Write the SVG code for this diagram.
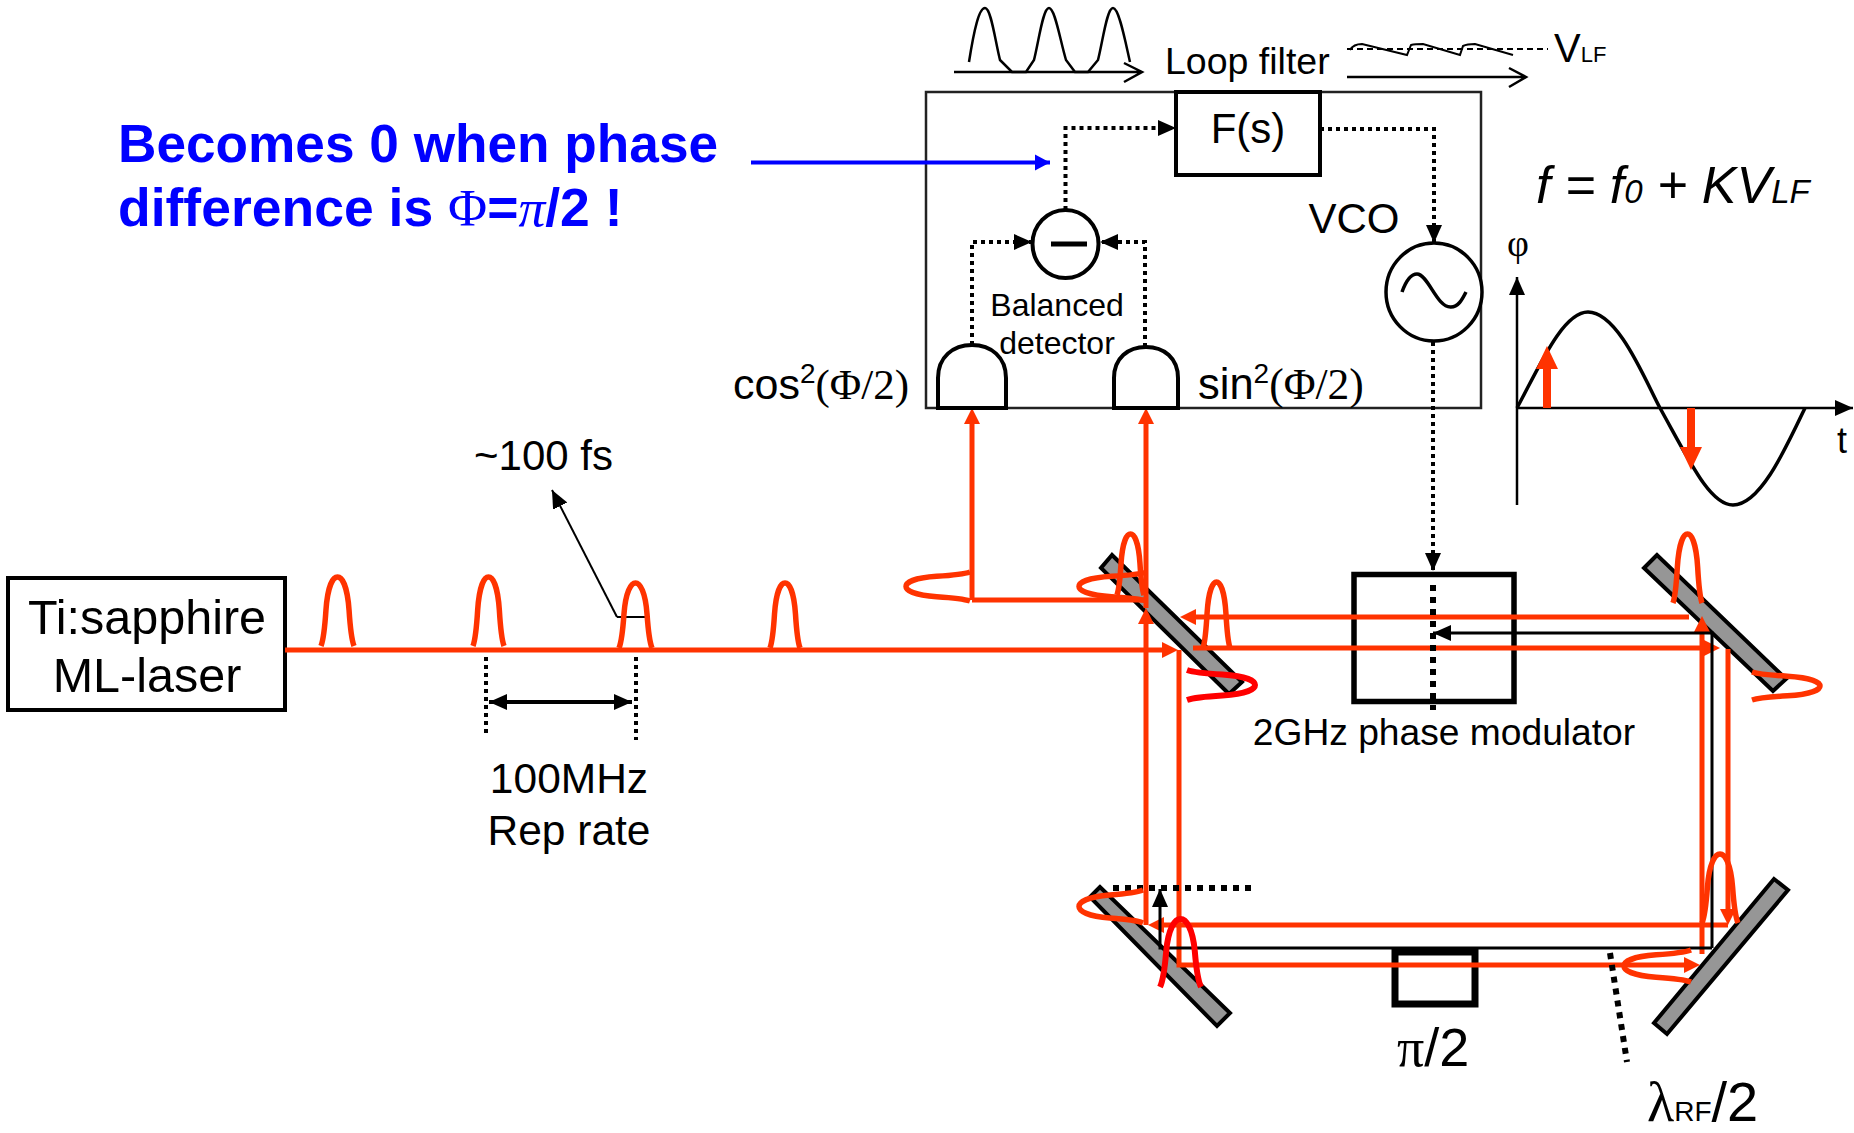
<svg xmlns="http://www.w3.org/2000/svg" xmlns:xlink="http://www.w3.org/1999/xlink" width="1854" height="1133" viewBox="0 0 1854 1133">
<style>
text{font-family:"Liberation Sans",Arial,sans-serif;fill:#000}
.s{font-family:"Liberation Serif","Times New Roman",serif}
.bl{fill:#0000ff;font-weight:bold}
.r{fill:none;stroke:#ff3300;stroke-width:5}
.k{fill:none;stroke:#000;stroke-width:3}
.d{fill:none;stroke:#000;stroke-width:4;stroke-dasharray:4 4}
.dd{fill:none;stroke:#000;stroke-width:6;stroke-dasharray:6 6}
.m{fill:#969696;stroke:#000;stroke-width:4}
.pr{fill:none;stroke:#ff3300;stroke-width:5.500}
.pp{fill:none;stroke:#ff0000;stroke-width:6}
.b{fill:#fff;stroke:#000;stroke-width:4}
.w{fill:none;stroke:#000;stroke-width:2.500}
</style>
<defs>
<path id="p" vector-effect="non-scaling-stroke" d="M0 100C8 90 12 70 15 48C20 14 36 0 50 0C64 0 80 14 85 48C88 70 92 90 100 100"/>
<marker id="ar" markerUnits="userSpaceOnUse" markerWidth="18" markerHeight="18" refX="2" refY="9" orient="auto"><path d="M0 1L16 9L0 17z" fill="#ff3300"/></marker>
<marker id="ab" markerUnits="userSpaceOnUse" markerWidth="24" markerHeight="24" refX="2" refY="12" orient="auto"><path d="M0 1L23 12L0 23z" fill="#ff3300"/></marker>
<marker id="ak" markerUnits="userSpaceOnUse" markerWidth="22" markerHeight="20" refX="18" refY="10" orient="auto"><path d="M0 2L18 10L0 18z" fill="#000"/></marker>
<marker id="au" markerUnits="userSpaceOnUse" markerWidth="20" markerHeight="20" refX="15" refY="10" orient="auto"><path d="M0 2L15 10L0 18z" fill="#0000ff"/></marker>
<marker id="as" markerUnits="userSpaceOnUse" markerWidth="22" markerHeight="20" refX="18" refY="10" orient="auto-start-reverse"><path d="M0 2L18 10L0 18z" fill="#000"/></marker>
</defs>

<g id="control-box"><rect x="926" y="92" width="555" height="316" fill="none" stroke="#222" stroke-width="2.500"/></g>

<g id="mirrors">
<polygon id="mirror-beam-splitter" class="m" points="1112,555 1101,568 1229,694 1242,682"/>
<polygon id="mirror-top-right" class="m" points="1657,555 1644,568 1773,691 1786,679"/>
<polygon id="mirror-bottom-right" class="m" points="1774,879 1788,890 1667,1034 1654,1023"/>
<polygon id="mirror-bottom-left" class="m" points="1100,887 1090,897 1217,1026 1230,1013"/>
</g>

<g id="laser"><rect x="8" y="578" width="277" height="132" fill="#fff" stroke="#000" stroke-width="4"/>
<text x="147" y="634" font-size="48.500" text-anchor="middle">Ti:sapphire</text>
<text x="147" y="692" font-size="48.500" text-anchor="middle">ML-laser</text></g>

<g id="modulator"><rect x="1354" y="574.500" width="160" height="127" fill="none" stroke="#000" stroke-width="5.500"/>
<text x="1444" y="745" font-size="37.200" text-anchor="middle">2GHz phase modulator</text></g>

<g id="pi-plate"><rect x="1395" y="952" width="80" height="52" fill="none" stroke="#000" stroke-width="7"/>
<text x="1397" y="1066" font-size="54"><tspan class="s">π</tspan>/2</text></g>

<g id="connectors">
<path class="r" d="M285 650H1164" marker-end="url(#ar)"/>
<path class="r" d="M972 600V422" marker-end="url(#ar)"/>
<path class="r" d="M972 600H1147"/>
<path class="r" d="M1146 925V622" marker-end="url(#ar)"/>
<path class="r" d="M1146 608V422" marker-end="url(#ar)"/>
<path class="r" d="M1179 650V965H1686" marker-end="url(#ar)"/>
<path class="r" d="M1689 617H1194" marker-end="url(#ar)"/>
<path class="r" d="M1193 648H1706" marker-end="url(#ar)"/>
<path class="r" d="M1702 954V630" marker-end="url(#ar)"/>
<path class="r" d="M1728 649V911" marker-end="url(#ar)"/>
<path class="r" d="M1728 925H1162" marker-end="url(#ar)"/>
<path class="k" d="M1712 948V633H1433" marker-end="url(#ak)"/>
<path class="k" d="M1712 948H1160V889" marker-end="url(#ak)"/>
<path class="d" d="M1065.500 210V128H1176" marker-end="url(#ak)"/>
<path class="d" d="M1320 129H1434V243" marker-end="url(#ak)"/>
<path class="d" d="M972 345V242H1032" marker-end="url(#ak)"/>
<path class="d" d="M1145 347V242H1100" marker-end="url(#ak)"/>
<path class="d" d="M1433 342V571" marker-end="url(#ak)"/>
<path class="dd" d="M1433 585V710"/>
<path class="dd" d="M1113 888H1252"/>
<path class="dd" d="M1610 953L1627 1062"/>
<path fill="none" stroke="#0000ff" stroke-width="4" d="M751 162.500H1050" marker-end="url(#au)"/>
<path class="d" d="M486 657V733"/>
<path class="d" d="M636 657V740"/>
<path fill="none" stroke="#000" stroke-width="4" d="M489 702H632" marker-start="url(#as)" marker-end="url(#as)"/>
<path fill="none" stroke="#000" stroke-width="2" d="M617 617L552 490" marker-end="url(#ak)"/>
<path fill="none" stroke="#000" stroke-width="2" d="M617 617H650"/>
</g>

<g id="pulses">
<use href="#p" class="pr" transform="matrix(.33 0 0 .69 321 577)"/>
<use href="#p" class="pr" transform="matrix(.31 0 0 .69 473 577)"/>
<use href="#p" class="pr" transform="matrix(.33 0 0 .65 619 583)"/>
<use href="#p" class="pr" transform="matrix(.3 0 0 .65 770 583)"/>
<use href="#p" class="pr" transform="matrix(.27 0 0 .61 1117 534)"/>
<use href="#p" class="pr" transform="matrix(.27 0 0 .66 1203 582)"/>
<use href="#p" class="pr" transform="matrix(.29 0 0 .69 1673 534)"/>
<use href="#p" class="pr" transform="matrix(.36 0 0 .69 1702 854)"/>
<use href="#p" class="pp" transform="matrix(.41 0 0 .68 1160 919)"/>
<use href="#p" class="pr" transform="matrix(0 .29 .64 0 906 572)"/>
<use href="#p" class="pr" transform="matrix(0 .29 .68 0 1079 572)"/>
<use href="#p" class="pr" transform="matrix(0 .33 .64 0 1079 890)"/>
<use href="#p" class="pr" transform="matrix(0 .32 .67 0 1624 950)"/>
<use href="#p" class="pp" transform="matrix(0 .3 -.68 0 1255 670)"/>
<use href="#p" class="pr" transform="matrix(0 .28 -.68 0 1820 672)"/>
</g>

<g id="filter"><rect x="1176" y="92" width="144" height="83" fill="#fff" stroke="#000" stroke-width="4"/>
<text x="1248" y="143" font-size="42" text-anchor="middle">F(s)</text></g>

<g id="subtractor"><ellipse cx="1065.500" cy="244" rx="33" ry="34" fill="#fff" stroke="#000" stroke-width="4"/>
<path d="M1051 244H1087" stroke="#000" stroke-width="5"/></g>

<g id="vco"><ellipse cx="1434" cy="292" rx="48" ry="49" fill="#fff" stroke="#000" stroke-width="3.500"/>
<path fill="none" stroke="#000" stroke-width="3.500" d="M1402 292C1407 278 1412 274 1417 274C1428 274 1437 308 1451 307C1458 307 1462 300 1466 292"/>
<text x="1354" y="233" font-size="42" text-anchor="middle">VCO</text></g>

<g id="detector-left"><path class="b" d="M938 408V378C938 357 953 345 972 345C991 345 1006 357 1006 378V408Z"/></g>
<g id="detector-right"><path class="b" d="M1114 408V378C1114 358 1128 347 1146 347C1164 347 1178 358 1178 378V408Z"/></g>

<g id="labels">
<text x="1057" y="316" font-size="32" text-anchor="middle">Balanced</text>
<text x="1057" y="354" font-size="32" text-anchor="middle">detector</text>
<text x="733" y="399" font-size="43">cos<tspan font-size="28" dy="-16">2</tspan><tspan class="s" font-size="43" dy="16">(Φ/2)</tspan></text>
<text x="1198" y="399" font-size="43.500">sin<tspan font-size="28" dy="-16">2</tspan><tspan class="s" font-size="43.500" dy="16">(Φ/2)</tspan></text>
<text x="1165" y="74" font-size="37.500">Loop filter</text>
<text x="1554" y="62" font-size="40">V<tspan font-size="22">LF</tspan></text>
<text x="1536" y="203" font-size="52" font-style="italic">f = f<tspan font-size="33">0</tspan> + KV<tspan font-size="33">LF</tspan></text>
<text class="bl" x="118" y="162" font-size="53.200">Becomes 0 when phase</text>
<text class="bl" x="118" y="226" font-size="53.500">difference is <tspan class="s" font-weight="normal">Φ</tspan>=<tspan class="s" font-weight="normal" font-style="italic">π</tspan>/2 !</text>
<text x="474" y="470" font-size="42">~100 fs</text>
<text x="569" y="793" font-size="42.500" text-anchor="middle">100MHz</text>
<text x="569" y="845" font-size="42.500" text-anchor="middle">Rep rate</text>
<text class="s" x="1507" y="256" font-size="38">φ</text>
<text x="1837" y="453" font-size="36">t</text>
<text x="1647" y="1121" font-size="56"><tspan class="s" font-size="56">λ</tspan><tspan font-size="28">RF</tspan>/2</text>
</g>

<g id="waveforms">
<path class="w" d="M969 62C974 30 979 8 985 8C991 8 995 40 1000 60L1012 72H1026L1034 60C1039 40 1043 8 1049 8C1055 8 1060 40 1066 60L1075 72H1088L1098 60C1103 40 1107 8 1113 8C1119 8 1125 40 1130 62"/>
<path class="w" d="M954 72H1141M1124 63L1142 72L1124 82"/>
<path class="w" d="M1347 77H1525M1509 68L1526 77L1509 87"/>
<path fill="none" stroke="#000" stroke-width="2" stroke-dasharray="6 4" d="M1347 49H1548"/>
<path fill="none" stroke="#000" stroke-width="2" d="M1350 50C1353 45 1358 44 1362 44L1407 55L1411 45C1415 44 1420 44 1423 44L1460 55L1463 46C1467 44 1471 44 1475 44L1513 55"/>
</g>

<g id="phase-plot">
<path fill="none" stroke="#000" stroke-width="2.500" d="M1517 505V277" marker-end="url(#ak)"/>
<path fill="none" stroke="#000" stroke-width="2.500" d="M1517 408H1853" marker-end="url(#ak)"/>
<path fill="none" stroke="#000" stroke-width="3.500" d="M1517 408C1540 365 1563 312 1588 312C1618 312 1645 380 1660 408C1690 462 1710 505 1733 505C1760 505 1785 450 1805 408"/>
<path fill="none" stroke="#ff3300" stroke-width="8" d="M1547 408V367" marker-end="url(#ab)"/>
<path fill="none" stroke="#ff3300" stroke-width="8" d="M1691 408V449" marker-end="url(#ab)"/>
</g>
</svg>
